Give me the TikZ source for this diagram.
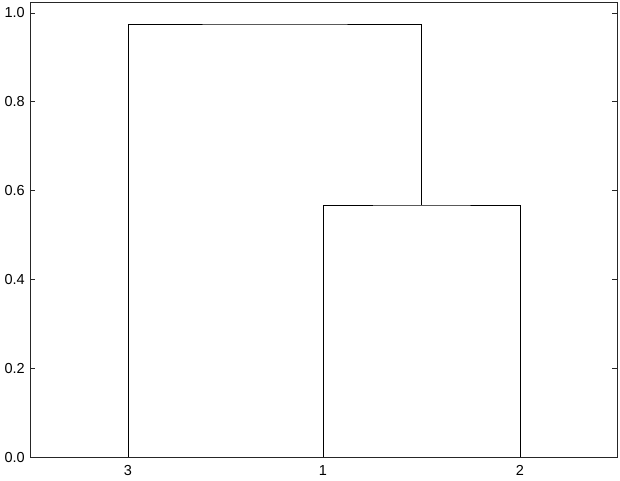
\documentclass[tikz,border=0pt]{standalone}
\usepackage{fontspec}
\setmainfont{Liberation Sans}
\begin{document}
\begin{tikzpicture}[x=1pt,y=-1pt,
  axisline/.style={line width=1pt,draw=black!85},
  dendro/.style={line width=1pt,draw=black},
  ticklab/.style={font=\fontsize{14.5}{16}\selectfont,inner sep=0pt}]
\useasboundingbox (0,0) rectangle (620,480);
% axes box
\draw[axisline] (30,2.5) rectangle (617,457);
% y ticks and labels
\foreach \v/\lab in {0/0.0,1/0.2,2/0.4,3/0.6,4/0.8,5/1.0}{
  \pgfmathsetmacro{\yy}{457-88.8*\v}
  \draw[axisline] (30,\yy) -- (35,\yy);
  \draw[axisline] (612,\yy) -- (617,\yy);
  \node[ticklab,anchor=east] (yl\v) at (25,\yy) {\lab};
}
% leaves
\coordinate (l3) at (128,457);
\coordinate (l1) at (323,457);
\coordinate (l2) at (520,457);
\coordinate (m12) at (421.5,205);
\coordinate (top) at (275,24);
% x labels
\node[ticklab,anchor=north] (xl3) at (128,465) {3};
\node[ticklab,anchor=north] (xl1) at (323,465) {1};
\node[ticklab,anchor=north] (xl2) at (520,465) {2};
% dendrogram
\draw[dendro] (l1) |- (m12) -| (l2);
\draw[dendro] (l3) |- (top) -| (m12);
\end{tikzpicture}
\end{document}
